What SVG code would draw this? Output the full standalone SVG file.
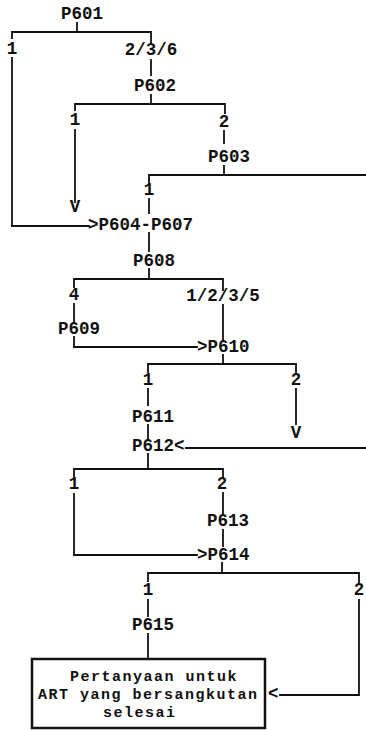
<svg xmlns="http://www.w3.org/2000/svg" width="366" height="730" viewBox="0 0 366 730">
<style>
text{font-family:"Liberation Mono","DejaVu Sans Mono",monospace;font-weight:bold;font-size:17.5px;fill:#111}
.m{text-anchor:middle}
.b{font-size:15px;letter-spacing:1.5px}
.c line,.c polyline{stroke:#111;stroke-width:1.8;fill:none;stroke-linecap:square}
.box{fill:#fff;stroke:#111;stroke-width:2.5}
</style>
<rect width="366" height="730" fill="#fff"/>
<g class="c" id="connectors">
<line x1="77" y1="23" x2="77" y2="32"/>
<polyline points="12,38 12,32 151,32 151,42"/>
<line x1="151" y1="60" x2="151" y2="75"/>
<line x1="12" y1="58" x2="12" y2="226"/>
<line x1="12" y1="226" x2="89" y2="226"/>
<line x1="151" y1="95" x2="151" y2="104"/>
<polyline points="75,110 75,104 225,104 225,113"/>
<line x1="75" y1="130" x2="75" y2="202"/>
<line x1="224" y1="131" x2="224" y2="143"/>
<line x1="224" y1="166" x2="224" y2="175"/>
<polyline points="149,183 149,175 366,175"/>
<line x1="149" y1="199" x2="149" y2="213"/>
<line x1="149" y1="233" x2="149" y2="251"/>
<line x1="149" y1="269" x2="149" y2="279"/>
<polyline points="74,287 74,279 223,279 223,290"/>
<line x1="74" y1="304" x2="74" y2="322"/>
<line x1="74" y1="337" x2="74" y2="347"/>
<line x1="74" y1="347" x2="197" y2="347"/>
<line x1="223" y1="305" x2="223" y2="341"/>
<line x1="223" y1="355" x2="223" y2="364"/>
<polyline points="148,372 148,364 296,364 296,372"/>
<line x1="148" y1="389" x2="148" y2="405"/>
<line x1="148" y1="425" x2="148" y2="440"/>
<line x1="296" y1="389" x2="296" y2="424"/>
<line x1="186" y1="448" x2="366" y2="448"/>
<line x1="148" y1="454" x2="148" y2="469"/>
<polyline points="74,476 74,469 223,469 223,477"/>
<line x1="74" y1="494" x2="74" y2="555"/>
<line x1="74" y1="555" x2="197" y2="555"/>
<line x1="223" y1="493" x2="223" y2="513"/>
<line x1="223" y1="530" x2="223" y2="546"/>
<line x1="222" y1="563" x2="222" y2="573"/>
<polyline points="148,581 148,573 359,573 359,582"/>
<line x1="148" y1="600" x2="148" y2="616"/>
<line x1="148" y1="634" x2="148" y2="659"/>
<polyline points="359,600 359,695 280,695"/>
</g>
<g id="n-p601"><text class="m" x="82" y="19">P601</text></g>
<g id="l-601-1"><text class="m" x="12" y="54">1</text></g>
<g id="l-601-2"><text class="m" x="151" y="55">2/3/6</text></g>
<g id="n-p602"><text class="m" x="155" y="91">P602</text></g>
<g id="l-602-1"><text class="m" x="75" y="125">1</text></g>
<g id="v-602"><text class="m" x="75" y="212">V</text></g>
<g id="l-602-2"><text class="m" x="224" y="127">2</text></g>
<g id="n-p603"><text class="m" x="229" y="162">P603</text></g>
<g id="l-603-1"><text class="m" x="149" y="195">1</text></g>
<g id="n-p604"><text x="88" y="230">&gt;P604-P607</text></g>
<g id="n-p608"><text class="m" x="154" y="266">P608</text></g>
<g id="l-608-4"><text class="m" x="74" y="300">4</text></g>
<g id="l-608-1"><text class="m" x="223" y="301">1/2/3/5</text></g>
<g id="n-p609"><text class="m" x="79" y="334">P609</text></g>
<g id="n-p610"><text x="197" y="352">&gt;P610</text></g>
<g id="l-610-1"><text class="m" x="148" y="385">1</text></g>
<g id="l-610-2"><text class="m" x="296" y="385">2</text></g>
<g id="n-p611"><text class="m" x="153" y="422">P611</text></g>
<g id="v-610"><text class="m" x="296" y="438">V</text></g>
<g id="n-p612"><text x="132" y="451">P612&lt;</text></g>
<g id="l-612-1"><text class="m" x="74" y="489">1</text></g>
<g id="l-612-2"><text class="m" x="222" y="489">2</text></g>
<g id="n-p613"><text class="m" x="228" y="526">P613</text></g>
<g id="n-p614"><text x="197" y="560">&gt;P614</text></g>
<g id="l-614-1"><text class="m" x="148" y="595">1</text></g>
<g id="l-614-2"><text class="m" x="359" y="595">2</text></g>
<g id="n-p615"><text class="m" x="153" y="630">P615</text></g>
<g id="n-end">
<rect class="box" x="32" y="659" width="233" height="69"/>
<text class="b" x="70" y="681">Pertanyaan untuk</text>
<text class="b" x="38" y="699">ART yang bersangkutan</text>
<text class="b" x="103" y="717">selesai</text>
</g>
<g id="arrow-end"><text x="268" y="699">&lt;</text></g>
</svg>
